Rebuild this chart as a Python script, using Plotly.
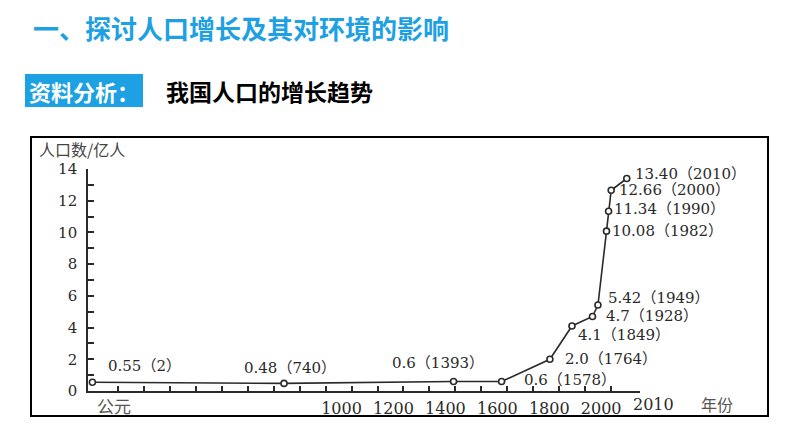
import plotly.graph_objects as go

# ---------------- data ----------------
years = [2, 740, 1393, 1578, 1764, 1849, 1928, 1949, 1982, 1990, 2000, 2010]
population = [0.55, 0.48, 0.6, 0.6, 2.0, 4.1, 4.7, 5.42, 10.08, 11.34, 12.66, 13.40]
value_text = ["0.55", "0.48", "0.6", "0.6", "2.0", "4.1", "4.7", "5.42",
              "10.08", "11.34", "12.66", "13.40"]
x_tick_years = [1000, 1200, 1400, 1600, 1800, 2000]
x_minor_years = [100, 200, 300, 400, 500, 600, 700, 800, 900, 1100, 1300,
                 1500, 1700, 1900]
x_last_label = "2010"
y_tick_values = [0, 2, 4, 6, 8, 10, 12, 14]
y_minor_values = [1, 3, 5, 7, 9, 11, 13]

title_text = "一、探讨人口增长及其对环境的影响"
tag_text = "资料分析："
subtitle_text = "我国人口的增长趋势"
y_title = "人口数/亿人"
x_title = "年份"
x_origin_label = "公元"

# ---------------- axis break (last decade drawn stretched, as in the source) ----
BREAK_YEAR = 2000
STRETCH = 6.0


def axis_pos(year):
    return year if year <= BREAK_YEAR else BREAK_YEAR + (year - BREAK_YEAR) * STRETCH


X_START = -15
X_END = 2111

# ---------------- layout geometry ----------------
W, H = 794, 447
L, T = 88, 169
PW, PH = 552, 222
R = W - L - PW
B = H - T - PH


def px_x(px):
    return (px - L) / PW


def px_y(py):
    return (T + PH - py) / PH


INK = "#2a2a2a"
BLUE = "#1DA1E2"
SERIF = "DejaVu Serif, Noto Sans CJK SC"
CJK = "Noto Sans CJK SC"

# label placements (anchor, xshift, yshift) per point
label_place = [
    ("left", 14, 16), ("center", 6, 15), ("center", -16, 18), ("left", 20, 1),
    ("left", 13, 0), ("left", 4, -9), ("left", 12, 0), ("left", 8, 7),
    ("left", 3, 0), ("left", 3, 2), ("left", 6, 0), ("left", 6, 5),
]

xs = [axis_pos(y) for y in years]

fig = go.Figure()
fig.add_trace(go.Scatter(
    x=xs, y=population, mode="lines",
    line=dict(color=INK, width=1.6),
    cliponaxis=False, hoverinfo="skip",
))
fig.add_trace(go.Scatter(
    x=xs, y=population, mode="markers",
    marker=dict(symbol="circle", size=6, color="white",
                line=dict(color=INK, width=1.6)),
    cliponaxis=False, hoverinfo="skip",
))

annotations = []
for x, yv, vt, yr, (anc, dx, dy) in zip(xs, population, value_text, years, label_place):
    annotations.append(dict(
        x=x, y=yv, xref="x", yref="y", text=f"{vt}（{yr}）", showarrow=False,
        xanchor=anc, yanchor="middle", xshift=dx, yshift=dy,
        font=dict(family=SERIF, size=15, color=INK),
    ))

# last x tick label, past the axis break
annotations.append(dict(
    x=X_END, y=px_y(404), xref="x", yref="paper", text=x_last_label,
    showarrow=False, xanchor="center", yanchor="middle", xshift=13,
    font=dict(family=SERIF, size=16, color=INK),
))
annotations.append(dict(
    x=px_x(717), y=px_y(404), xref="paper", yref="paper", text=x_title,
    showarrow=False, xanchor="center", yanchor="middle",
    font=dict(family=CJK, size=16, color="#555555"),
))
annotations.append(dict(
    x=px_x(114), y=px_y(405), xref="paper", yref="paper", text=x_origin_label,
    showarrow=False, xanchor="center", yanchor="middle",
    font=dict(family=CJK, size=17, color="#555555"),
))
annotations.append(dict(
    x=px_x(37), y=px_y(149), xref="paper", yref="paper", text=y_title,
    showarrow=False, xanchor="left", yanchor="middle",
    font=dict(family=CJK, size=16, color="#444444"),
))
# slide header
annotations.append(dict(
    x=px_x(31), y=px_y(27), xref="paper", yref="paper", text=f"<b>{title_text}</b>",
    showarrow=False, xanchor="left", yanchor="middle",
    font=dict(family=CJK, size=26, color=BLUE),
))
annotations.append(dict(
    x=px_x(84), y=px_y(91), xref="paper", yref="paper", text=f"<b>{tag_text}</b>",
    showarrow=False, xanchor="center", yanchor="middle",
    font=dict(family=CJK, size=22, color="white"),
))
annotations.append(dict(
    x=px_x(164), y=px_y(91), xref="paper", yref="paper", text=f"<b>{subtitle_text}</b>",
    showarrow=False, xanchor="left", yanchor="middle",
    font=dict(family=CJK, size=23, color="black"),
))

shapes = [
    dict(type="rect", xref="paper", yref="paper",
         x0=px_x(25), x1=px_x(143), y0=px_y(107), y1=px_y(74),
         fillcolor=BLUE, line=dict(width=0), layer="below"),
    dict(type="rect", xref="paper", yref="paper",
         x0=px_x(31), x1=px_x(768), y0=px_y(416), y1=px_y(137),
         fillcolor="rgba(0,0,0,0)", line=dict(color="black", width=2), layer="below"),
]

fig.update_layout(
    width=W, height=H, margin=dict(l=L, r=R, t=T, b=B, pad=0),
    paper_bgcolor="white", plot_bgcolor="white", showlegend=False,
    annotations=annotations, shapes=shapes,
    xaxis=dict(
        range=[X_START, X_END], showgrid=False, zeroline=False,
        showline=True, linecolor=INK, linewidth=1.6,
        tickmode="array", tickvals=[axis_pos(y) for y in x_tick_years],
        ticktext=[str(y) for y in x_tick_years],
        ticks="inside", ticklen=5, tickwidth=1.6, tickcolor=INK,
        ticklabelshift=-10, ticklabelstandoff=2,
        tickfont=dict(family=SERIF, size=16, color=INK),
        minor=dict(tickmode="array", tickvals=[axis_pos(y) for y in x_minor_years] + [X_END],
                   ticks="inside", ticklen=5, tickwidth=1.6, tickcolor=INK),
        fixedrange=True,
    ),
    yaxis=dict(
        range=[0, 14], showgrid=False, zeroline=False,
        showline=True, linecolor=INK, linewidth=1.6,
        tickmode="array", tickvals=y_tick_values,
        ticktext=[str(v) for v in y_tick_values],
        ticks="inside", ticklen=6, tickwidth=1.6, tickcolor=INK,
        ticklabelstandoff=6,
        tickfont=dict(family=SERIF, size=15, color=INK),
        minor=dict(tickmode="array", tickvals=y_minor_values,
                   ticks="inside", ticklen=6, tickwidth=1.6, tickcolor=INK),
        fixedrange=True,
    ),
)

fig.write_html("out.html")
